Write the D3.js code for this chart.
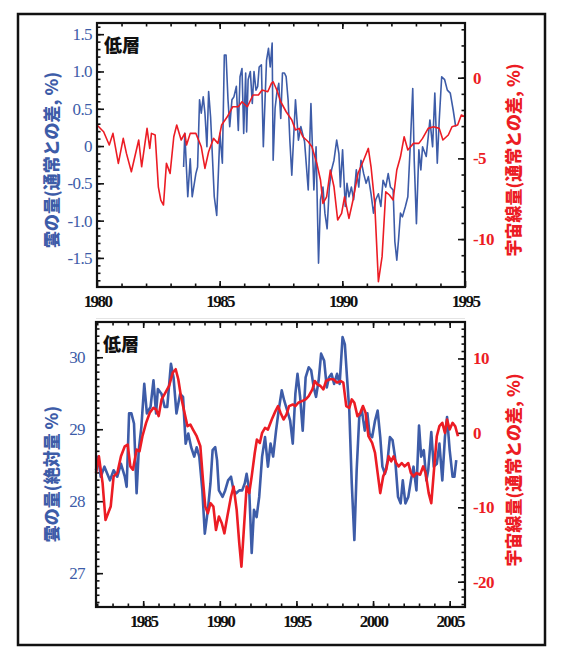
<!DOCTYPE html>
<html><head><meta charset="utf-8">
<script src="https://cdn.jsdelivr.net/npm/d3@7"></script>
<style>body{margin:0;background:#fff}svg{display:block}</style>
</head><body><svg id="c" width="579" height="647"></svg>
<script>
// ---------- DATA ----------
const topCloudYears = [1983.53,1983.58,1983.70,1983.80,1983.88,1984.03,1984.10,1984.18,1984.25,1984.33,1984.40,1984.48,1984.55,1984.63,1984.78,1984.88,1985.01,1985.11,1985.19,1985.26,1985.34,1985.41,1985.50,1985.58,1985.68,1985.76,1985.83,1985.91,1985.98,1986.06,1986.10,1986.16,1986.25,1986.33,1986.40,1986.48,1986.55,1986.61,1986.70,1986.78,1986.85,1986.91,1986.99,1987.06,1987.14,1987.18,1987.26,1987.33,1987.41,1987.49,1987.56,1987.64,1987.71,1987.79,1987.86,1987.94,1988.01,1988.09,1988.21,1988.31,1988.46,1988.61,1988.72,1988.84,1988.93,1989.03,1989.11,1989.21,1989.29,1989.38,1989.47,1989.56,1989.66,1989.77,1989.86,1989.92,1990.01,1990.12,1990.19,1990.27,1990.37,1990.46,1990.57,1990.67,1990.76,1990.87,1990.97,1991.06,1991.17,1991.27,1991.36,1991.47,1991.57,1991.66,1991.77,1991.87,1991.96,1992.07,1992.14,1992.22,1992.29,1992.37,1992.45,1992.57,1992.67,1992.78,1992.87,1992.93,1993.02,1993.12,1993.20,1993.27,1993.42,1993.57,1993.68,1993.77,1993.87,1993.95,1994.05,1994.17,1994.28,1994.40,1994.52,1994.62];
const topCloudValues = [-0.28,0.17,-0.68,-0.17,-0.68,-0.37,-0.28,0.62,0.44,0.66,0.44,-0.01,0.73,0.39,-0.68,-0.93,0.17,-0.23,1.22,1.22,0.62,0.26,0.62,0.66,0.80,0.21,0.93,1.04,0.17,0.98,0.19,0.89,1.00,0.57,1.00,0.75,0.80,1.06,1.09,-0.01,0.62,1.15,1.31,1.06,1.38,-0.19,0.51,0.71,0.84,0.37,0.98,0.98,0.93,0.62,0.08,-0.39,0.08,0.62,0.08,0.26,0.06,-0.59,0.57,-0.59,-0.01,-1.57,-0.72,-0.55,-0.90,-1.11,-0.55,-0.32,-0.19,0.08,-0.10,-0.55,-0.05,-0.81,-0.50,-0.68,-0.55,-0.72,-0.32,-0.55,-0.19,-0.37,-0.50,-0.41,-0.64,-0.90,-0.72,-0.64,-0.81,-0.46,-0.55,-0.37,-0.55,-0.59,-1.28,-1.53,-1.26,-0.90,-0.95,-0.81,-0.68,0.08,0.77,-0.19,-1.04,-0.05,-0.32,-0.01,-0.14,0.35,-0.01,0.71,-0.23,0.35,0.93,0.89,0.75,0.71,0.48,0.26];

const topCosmicYears = [1980.00,1980.27,1980.50,1980.65,1980.87,1981.07,1981.20,1981.40,1981.70,1981.82,1982.04,1982.15,1982.22,1982.37,1982.50,1982.60,1982.71,1982.83,1982.98,1983.13,1983.25,1983.43,1983.58,1983.65,1983.80,1984.03,1984.25,1984.40,1984.55,1984.75,1984.93,1985.08,1985.31,1985.53,1985.76,1985.91,1986.13,1986.36,1986.58,1986.73,1986.96,1987.11,1987.18,1987.33,1987.49,1987.71,1987.94,1988.09,1988.24,1988.39,1988.61,1988.76,1988.96,1989.11,1989.21,1989.36,1989.51,1989.66,1989.81,1989.97,1990.09,1990.27,1990.42,1990.64,1990.87,1991.06,1991.17,1991.32,1991.47,1991.62,1991.77,1991.92,1992.07,1992.22,1992.37,1992.52,1992.67,1992.90,1993.12,1993.27,1993.50,1993.72,1993.95,1994.10,1994.32,1994.47,1994.70,1994.85,1995.00];
const topCosmicValues = [-2.93,-3.35,-4.17,-3.45,-5.31,-3.76,-4.69,-5.83,-3.86,-5.52,-3.14,-4.38,-3.45,-3.55,-6.76,-7.58,-7.89,-5.31,-5.93,-3.66,-2.93,-3.86,-3.45,-4.17,-3.45,-3.45,-4.28,-5.62,-4.59,-3.76,-4.07,-2.93,-2.42,-1.80,-1.80,-1.49,-1.80,-1.07,-1.07,-0.76,-0.87,-0.35,-0.25,-0.76,-1.49,-2.11,-2.62,-3.24,-3.14,-3.66,-3.97,-4.28,-5.31,-6.34,-7.79,-7.38,-5.72,-6.76,-8.82,-8.41,-7.38,-8.72,-7.69,-5.93,-5.10,-4.38,-5.52,-7.79,-12.64,-11.09,-7.07,-7.27,-7.58,-5.72,-4.90,-3.66,-4.48,-4.07,-4.07,-3.76,-3.14,-3.04,-3.14,-3.86,-3.55,-3.04,-2.93,-2.31,-2.42];

const bottomCloudYears = [1981.92,1982.06,1982.23,1982.47,1982.83,1983.07,1983.31,1983.55,1983.80,1983.92,1984.08,1984.23,1984.40,1984.57,1984.71,1984.88,1985.07,1985.24,1985.48,1985.67,1985.84,1985.96,1986.20,1986.40,1986.57,1986.81,1986.98,1987.17,1987.41,1987.60,1987.77,1987.94,1988.13,1988.33,1988.49,1988.66,1988.86,1989.02,1989.22,1989.39,1989.53,1989.70,1989.82,1989.94,1990.18,1990.35,1990.54,1990.73,1990.90,1991.07,1991.27,1991.46,1991.63,1991.75,1991.92,1992.08,1992.23,1992.40,1992.57,1992.76,1992.95,1993.14,1993.31,1993.48,1993.67,1993.84,1994.04,1994.20,1994.40,1994.59,1994.76,1994.93,1995.07,1995.24,1995.41,1995.60,1995.80,1995.96,1996.13,1996.28,1996.45,1996.61,1996.81,1996.98,1997.12,1997.29,1997.46,1997.65,1997.82,1998.01,1998.16,1998.30,1998.45,1998.61,1998.78,1998.93,1999.10,1999.27,1999.46,1999.63,1999.77,1999.94,2000.13,2000.30,2000.47,2000.61,2000.78,2000.95,2001.10,2001.27,2001.43,2001.63,2001.80,2001.94,2002.11,2002.30,2002.47,2002.64,2002.83,2003.00,2003.14,2003.31,2003.48,2003.60,2003.80,2003.96,2004.16,2004.33,2004.52,2004.69,2004.83,2005.00,2005.19,2005.31,2005.43];
const bottomCloudValues = [28.43,28.62,28.34,28.48,28.29,28.43,28.34,28.52,28.34,28.20,29.22,29.22,29.08,28.11,28.71,29.03,29.63,29.22,29.31,29.68,29.22,29.56,29.49,29.31,29.31,29.91,29.72,29.22,29.49,29.45,28.80,28.94,28.75,28.62,28.75,28.62,28.15,27.55,27.88,28.25,28.71,28.75,28.57,28.15,28.06,28.15,28.29,28.34,28.15,28.11,28.15,28.15,28.25,28.38,28.15,27.28,27.88,27.78,28.06,28.62,28.89,28.48,28.80,28.62,28.98,29.26,29.54,29.40,29.26,29.12,28.80,29.49,29.77,29.45,28.98,29.72,29.86,29.82,29.58,29.45,29.68,30.05,29.95,29.58,29.72,29.77,29.63,29.77,29.63,30.28,30.18,29.72,29.26,28.25,27.46,28.43,29.17,29.26,28.98,29.22,28.94,28.89,29.12,29.26,28.89,28.48,28.38,28.57,28.89,28.85,28.62,28.06,27.97,28.29,27.97,28.06,28.29,28.48,28.15,29.05,28.62,28.71,28.29,28.43,28.96,28.48,28.52,28.80,28.29,28.89,29.17,28.71,28.34,28.34,28.57];

const bottomCosmicYears = [1981.92,1982.11,1982.35,1982.54,1982.71,1982.88,1983.07,1983.31,1983.55,1983.80,1983.99,1984.16,1984.33,1984.57,1984.76,1984.95,1985.19,1985.43,1985.67,1985.84,1986.01,1986.20,1986.45,1986.69,1986.93,1987.12,1987.29,1987.46,1987.65,1987.89,1988.08,1988.25,1988.49,1988.73,1988.90,1989.05,1989.22,1989.39,1989.58,1989.75,1989.94,1990.13,1990.30,1990.49,1990.73,1990.90,1991.10,1991.27,1991.41,1991.58,1991.75,1991.92,1992.08,1992.28,1992.42,1992.61,1992.76,1992.95,1993.14,1993.39,1993.63,1993.80,1993.96,1994.16,1994.35,1994.52,1994.76,1994.93,1995.12,1995.36,1995.60,1995.80,1996.04,1996.20,1996.37,1996.57,1996.76,1996.93,1997.17,1997.41,1997.65,1997.89,1998.06,1998.25,1998.45,1998.61,1998.78,1998.98,1999.17,1999.34,1999.51,1999.70,1999.94,2000.13,2000.30,2000.47,2000.66,2000.86,2001.02,2001.19,2001.34,2001.51,2001.67,2001.87,2002.06,2002.30,2002.47,2002.64,2002.83,2003.07,2003.27,2003.43,2003.63,2003.80,2003.96,2004.16,2004.33,2004.52,2004.69,2004.83,2005.00,2005.19,2005.36,2005.54];
const bottomCosmicValues = [-5.40,-3.15,-6.75,-11.70,-10.80,-9.90,-5.85,-5.40,-3.15,-1.80,-1.57,-4.50,-4.95,-2.25,-2.47,-0.45,1.35,2.70,3.37,3.15,2.25,4.50,5.40,6.30,8.10,8.55,7.20,4.95,3.15,0.90,1.12,0.45,-0.45,-1.80,-6.30,-9.90,-10.80,-9.45,-9.90,-13.05,-11.25,-12.15,-13.50,-11.25,-8.55,-7.20,-10.35,-14.84,-17.99,-12.60,-7.20,-8.10,-5.85,-2.70,-0.90,-1.35,0.00,0.67,0.45,1.80,2.92,3.60,2.70,1.80,2.47,3.60,3.82,3.60,4.05,4.27,4.50,4.95,5.85,6.97,6.52,6.30,5.85,6.97,7.20,7.20,6.75,6.97,6.75,3.60,3.37,4.50,4.05,2.25,2.70,3.60,2.70,-0.45,-1.35,-2.70,-5.40,-8.10,-5.85,-4.95,-3.15,-3.82,-3.15,-4.05,-4.50,-4.05,-4.50,-4.05,-5.40,-5.85,-5.40,-5.62,-4.50,-5.40,-8.10,-9.45,-5.40,-0.45,0.90,1.35,0.00,1.80,0.45,1.35,0.90,-0.45];

const topXTicks = [1980, 1985, 1990, 1995];
const topXLabels = ["1980", "1985", "1990", "1995"];
const topLeftTicks = [1.5, 1.0, 0.5, 0, -0.5, -1.0, -1.5];
const topLeftLabels = ["1.5", "1.0", "0.5", "0", "-0.5", "-1.0", "-1.5"];
const topRightTicks = [0, -5, -10];
const topRightLabels = ["0", "-5", "-10"];
const bottomXTicks = [1985, 1990, 1995, 2000, 2005];
const bottomXLabels = ["1985", "1990", "1995", "2000", "2005"];
const bottomLeftTicks = [30, 29, 28, 27];
const bottomLeftLabels = ["30", "29", "28", "27"];
const bottomRightTicks = [10, 0, -10, -20];
const bottomRightLabels = ["10", "0", "-10", "-20"];

const panelTag = "低層";
const topLeftTitle = "雲の量(通常との差, %)";
const topRightTitle = "宇宙線量(通常との差, %)";
const bottomLeftTitle = "雲の量(絶対量 %)";
const bottomRightTitle = "宇宙線量(通常との差, %)";

// ---------- DRAW ----------
const BLUE = "#3d5ca8", RED = "#ec1c24";
const SERIF = "'Liberation Serif', 'Times New Roman', serif";
const CJK = "'Noto Sans CJK JP', sans-serif";
const svg = d3.select("#c");
svg.append("rect").attr("x", 18).attr("y", 14).attr("width", 527).attr("height", 631)
  .attr("fill", "none").attr("stroke", "#111").attr("stroke-width", 2.5);
svg.append("line").attr("x1", 96).attr("x2", 465).attr("y1", 318.5).attr("y2", 318.5)
  .attr("stroke", "#e4e4e4").attr("stroke-width", 1);

function panel(o) {
  const g = svg.append("g");
  const x = d3.scaleLinear().domain(o.xDom).range([o.L, o.R]);
  const yL = d3.scaleLinear().domain(o.yLDom).range([o.B, o.T]);
  const yR = d3.scaleLinear().domain(o.yRDom).range([o.B, o.T]);

  const tickStyle = sel => {
    sel.select(".domain").remove();
    sel.selectAll(".tick line").attr("stroke", "#111").attr("stroke-width", 1.6);
  };
  const inRange = (arr, s) => arr.filter(v => { const p = s(v); return p > Math.min(...s.range()) + 0.5 && p < Math.max(...s.range()) - 0.5; });

  // minor ticks
  g.append("g").attr("transform", `translate(0,${o.B})`)
    .call(d3.axisBottom(x).tickValues(inRange(o.xMinor, x)).tickSize(-3.5).tickFormat("")).call(tickStyle);
  g.append("g").attr("transform", `translate(0,${o.T})`)
    .call(d3.axisTop(x).tickValues(inRange(o.xMinor, x)).tickSize(-3.5).tickFormat("")).call(tickStyle);
  g.append("g").attr("transform", `translate(${o.L},0)`)
    .call(d3.axisLeft(yL).tickValues(inRange(o.yLMinor, yL)).tickSize(-3.5).tickFormat("")).call(tickStyle);
  g.append("g").attr("transform", `translate(${o.R},0)`)
    .call(d3.axisRight(yR).tickValues(inRange(o.yRMinor, yR)).tickSize(-3.5).tickFormat("")).call(tickStyle);

  // major ticks + labels
  const xa = g.append("g").attr("transform", `translate(0,${o.B})`)
    .call(d3.axisBottom(x).tickValues(o.xTicks).tickSize(-6).tickPadding(8).tickFormat((d, i) => o.xLabels[i])).call(tickStyle);
  xa.selectAll("text").attr("fill", "#111").style("font-family", SERIF)
    .style("font-size", "17px").style("font-weight", "bold").style("letter-spacing", "-1.6px");
  g.append("g").attr("transform", `translate(0,${o.T})`)
    .call(d3.axisTop(x).tickValues(o.xTicks.filter(v => v > o.xDom[0] && v < o.xDom[1])).tickSize(-6).tickFormat("")).call(tickStyle);
  const la = g.append("g").attr("transform", `translate(${o.L},0)`)
    .call(d3.axisLeft(yL).tickValues(o.yLTicks).tickSize(-7).tickPadding(o.lPad).tickFormat((d, i) => o.yLLabels[i])).call(tickStyle);
  la.selectAll("text").attr("fill", BLUE).style("font-family", SERIF)
    .style("font-size", "17px").style("letter-spacing", "-0.6px");
  const ra = g.append("g").attr("transform", `translate(${o.R},0)`)
    .call(d3.axisRight(yR).tickValues(o.yRTicks).tickSize(-7).tickPadding(8).tickFormat((d, i) => o.yRLabels[i])).call(tickStyle);
  ra.selectAll("text").attr("fill", RED).style("font-family", SERIF)
    .style("font-size", "17px").style("font-weight", "bold").style("letter-spacing", "-0.6px");

  // lines
  const cloud = o.cloudYears.map((yr, i) => [yr, o.cloudValues[i]]).filter(d => d[1] !== undefined);
  const cosmic = o.cosmicYears.map((yr, i) => [yr, o.cosmicValues[i]]).filter(d => d[1] !== undefined);
  g.append("path").datum(cloud).attr("fill", "none").attr("stroke", BLUE).attr("stroke-width", o.lw)
    .attr("stroke-linejoin", "round").attr("d", d3.line().x(d => x(d[0])).y(d => yL(d[1])));
  g.append("path").datum(cosmic).attr("fill", "none").attr("stroke", RED).attr("stroke-width", o.lw)
    .attr("stroke-linejoin", "round").attr("d", d3.line().x(d => x(d[0])).y(d => yR(d[1])));

  // frame
  g.append("rect").attr("x", o.L).attr("y", o.T).attr("width", o.R - o.L).attr("height", o.B - o.T)
    .attr("fill", "none").attr("stroke", "#111").attr("stroke-width", 2.2);

  // tag
  g.append("text").attr("x", o.L + 7).attr("y", o.T + 29).text(panelTag)
    .style("font-family", CJK).style("font-weight", 900).style("font-size", "18px").attr("fill", "#111");

  // titles
  g.append("text").attr("transform", `translate(${o.ltX},${o.ltY}) rotate(-90)`).attr("text-anchor", "middle")
    .attr("dominant-baseline", "central").text(o.leftTitle)
    .style("font-family", CJK).style("font-weight", 900).style("font-size", "17px").attr("fill", BLUE);
  g.append("text").attr("transform", `translate(${o.rtX},${o.rtY}) rotate(-90)`).attr("text-anchor", "middle")
    .attr("dominant-baseline", "central").text(o.rightTitle)
    .style("font-family", CJK).style("font-weight", 900).style("font-size", "17px").attr("fill", RED);
}

panel({
  L: 97, R: 465, T: 23, B: 287,
  xDom: [1980, 1995], yLDom: [-1.89, 1.65], yRDom: [-12.97, 3.39],
  xTicks: topXTicks, xLabels: topXLabels, xMinor: d3.range(1981, 1995),
  yLTicks: topLeftTicks, yLLabels: topLeftLabels, yLMinor: d3.range(-18, 17).map(v => v / 10),
  yRTicks: topRightTicks, yRLabels: topRightLabels, yRMinor: d3.range(-12, 4),
  cloudYears: topCloudYears, cloudValues: topCloudValues,
  cosmicYears: topCosmicYears, cosmicValues: topCosmicValues,
  lw: 1.6, lPad: 5,
  leftTitle: topLeftTitle, rightTitle: topRightTitle,
  ltX: 50, ltY: 160, rtX: 512, rtY: 160
});

panel({
  L: 96, R: 465, T: 322, B: 607,
  xDom: [1981.92, 2006.0], yLDom: [26.53, 30.49], yRDom: [-23.4, 14.9],
  xTicks: bottomXTicks, xLabels: bottomXLabels, xMinor: d3.range(1982, 2006),
  yLTicks: bottomLeftTicks, yLLabels: bottomLeftLabels, yLMinor: d3.range(266, 305).map(v => v / 10),
  yRTicks: bottomRightTicks, yRLabels: bottomRightLabels, yRMinor: d3.range(-23, 15),
  cloudYears: bottomCloudYears, cloudValues: bottomCloudValues,
  cosmicYears: bottomCosmicYears, cosmicValues: bottomCosmicValues,
  lw: 2.6, lPad: 11,
  leftTitle: bottomLeftTitle, rightTitle: bottomRightTitle,
  ltX: 50, ltY: 474, rtX: 512, rtY: 470
});
</script></body></html>
